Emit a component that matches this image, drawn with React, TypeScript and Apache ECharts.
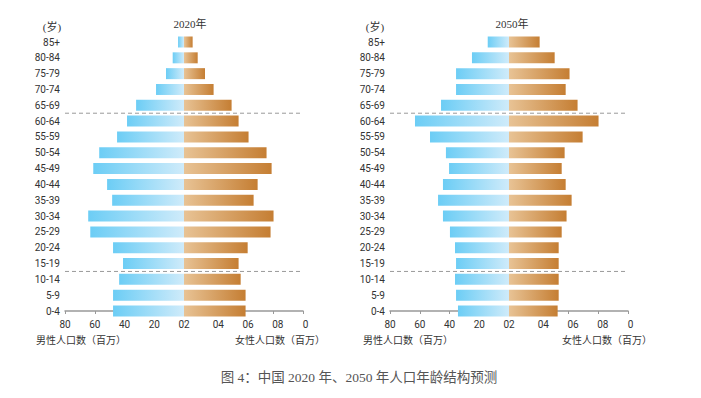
import React, { useEffect, useRef } from "react";
import * as echarts from "echarts";

const ages = ["0-4", "5-9", "10-14", "15-19", "20-24", "25-29", "30-34", "35-39", "40-44", "45-49", "50-54", "55-59", "60-64", "65-69", "70-74", "75-79", "80-84", "85+"];
const male2020 = [47.7, 47.7, 43.6, 41.0, 47.7, 63.0, 64.4, 48.3, 51.7, 61.0, 57.0, 45.0, 38.3, 32.2, 18.8, 12.1, 7.6, 4.0];
const female2020 = [41.4, 41.4, 38.1, 36.7, 42.8, 58.2, 60.2, 46.8, 49.5, 58.9, 55.5, 43.4, 36.7, 32.0, 19.9, 14.1, 9.2, 5.8];
const male2050 = [34.3, 35.6, 36.3, 35.6, 36.3, 39.7, 44.4, 47.7, 44.4, 40.3, 42.4, 53.1, 63.2, 45.7, 35.6, 35.6, 24.9, 14.3];
const female2050 = [32.7, 33.4, 33.4, 33.4, 33.4, 35.4, 38.7, 42.1, 38.1, 35.4, 37.4, 49.5, 60.2, 46.1, 38.1, 40.7, 30.7, 20.6];
const tickValues = [-80, -60, -40, -20, 0, 20, 40, 60, 80];
const tickLabels = ["80", "60", "40", "20", "02", "04", "06", "08", "0"];
const titles = ["2020年", "2050年"];
const unitLabel = "(岁)";
const maleName = "男性人口数（百万）";
const femaleName = "女性人口数（百万）";
const caption = "图 4：中国 2020 年、2050 年人口年龄结构预测";
// dashed separators lie between these category pairs
const separators = [["60-64", "65-69"], ["10-14", "15-19"]];

const SANS = "Roboto, 'Noto Sans', sans-serif";
const CJK = "'Liberation Serif', 'Noto Sans CJK SC', serif";

const maleGrad = () =>
  new echarts.graphic.LinearGradient(0, 0, 1, 0, [
    { offset: 0, color: "#6CCDF5" },
    { offset: 1, color: "#CFEBFA" },
  ]);
const femaleGrad = () =>
  new echarts.graphic.LinearGradient(0, 0, 1, 0, [
    { offset: 0, color: "#E8C395" },
    { offset: 1, color: "#C57E33" },
  ]);

const grids = [
  { left: 65, top: 42, width: 238, height: 269 },
  { left: 390, top: 42, width: 238, height: 269 },
];

export default function App() {
  const ref = useRef<HTMLDivElement>(null);
  useEffect(() => {
    if (!ref.current) return;
    const chart = echarts.init(ref.current, undefined, { renderer: "svg" });

    const xAxis = grids.map((_, i) => ({
      type: "value",
      gridIndex: i,
      min: -80,
      max: 80,
      interval: 20,
      splitLine: { show: false },
      axisLine: { show: true, lineStyle: { color: "#999", width: 1.5 } },
      axisTick: { show: true, length: 3, lineStyle: { color: "#999" } },
      axisLabel: {
        margin: 8,
        fontSize: 10,
        color: "#333",
        fontFamily: SANS,
        formatter: (v: number) => {
          const idx = tickValues.indexOf(v);
          const s = idx >= 0 ? tickLabels[idx] : "";
          if (v === 80) return `{e|${s}}`;
          return v > 0 ? `{r|${s}}` : `{n|${s}}`;
        },
        rich: {
          n: { fontSize: 10, color: "#333", fontFamily: SANS },
          r: { fontSize: 10, color: "#333", fontFamily: SANS, padding: [0, 0, 0, 9] },
          e: { fontSize: 10, color: "#333", fontFamily: SANS, padding: [0, 0, 0, 5] },
        },
      },
    }));
    const yAxis = grids.map((_, i) => ({
      type: "category",
      gridIndex: i,
      data: ages,
      boundaryGap: false,
      axisLine: { show: false, onZero: false },
      axisTick: { show: false },
      splitLine: { show: false },
      axisLabel: { interval: 0, margin: 5, fontSize: 10, color: "#333", fontFamily: SANS },
    }));
    const pairs = [
      [male2020, female2020],
      [male2050, female2050],
    ];
    const series: any[] = [];
    pairs.forEach(([m, f], i) => {
      series.push({
        type: "bar",
        xAxisIndex: i,
        yAxisIndex: i,
        data: m.map((v) => -v),
        barWidth: 11,
        barGap: "-100%",
        itemStyle: { color: maleGrad() },
      });
      series.push({
        type: "bar",
        xAxisIndex: i,
        yAxisIndex: i,
        data: f,
        barWidth: 11,
        barGap: "-100%",
        itemStyle: { color: femaleGrad() },
      });
    });

    const textGraphics: any[] = [];
    const titleX = [190, 512];
    const unitX = [52, 375];
    const maleX = [36, 363];
    const femaleRight = [325, 652];
    [0, 1].forEach((i) => {
      textGraphics.push({
        type: "text",
        x: titleX[i],
        y: 24,
        style: { text: titles[i], fontSize: 11, fill: "#333", fontFamily: CJK, align: "center", verticalAlign: "middle" },
      });
      textGraphics.push({
        type: "text",
        x: unitX[i],
        y: 27,
        style: { text: unitLabel, fontSize: 11, fill: "#333", fontFamily: CJK, align: "center", verticalAlign: "middle" },
      });
      textGraphics.push({
        type: "text",
        x: maleX[i],
        y: 340,
        style: { text: maleName, fontSize: 10, fill: "#333", fontFamily: CJK, align: "left", verticalAlign: "middle" },
      });
      textGraphics.push({
        type: "text",
        x: femaleRight[i],
        y: 340,
        style: { text: femaleName, fontSize: 10, fill: "#333", fontFamily: CJK, align: "right", verticalAlign: "middle" },
      });
    });
    textGraphics.push({
      type: "text",
      x: 359,
      y: 377,
      style: { text: caption, fontSize: 13.5, fill: "#555", fontFamily: CJK, align: "center", verticalAlign: "middle" },
    });

    chart.setOption({
      animation: false,
      backgroundColor: "#fff",
      grid: grids,
      xAxis,
      yAxis,
      series,
      graphic: textGraphics,
    });

    // dashed separator lines between category pairs, positioned from the axis scale
    const lines: any[] = [];
    grids.forEach((g, i) => {
      separators.forEach(([a, b]) => {
        const ya = chart.convertToPixel({ yAxisIndex: i }, a) as number;
        const yb = chart.convertToPixel({ yAxisIndex: i }, b) as number;
        const y = (ya + yb) / 2;
        lines.push({
          type: "line",
          shape: { x1: g.left, y1: y, x2: g.left + g.width, y2: y },
          style: { stroke: "#999", lineWidth: 1, lineDash: [4, 3] },
          z: 10,
        });
      });
    });
    chart.setOption({ graphic: [...textGraphics, ...lines] });

    return () => chart.dispose();
  }, []);
  return <div ref={ref} style={{ position: "absolute", left: 0, top: 0, width: 701, height: 398 }} />;
}
